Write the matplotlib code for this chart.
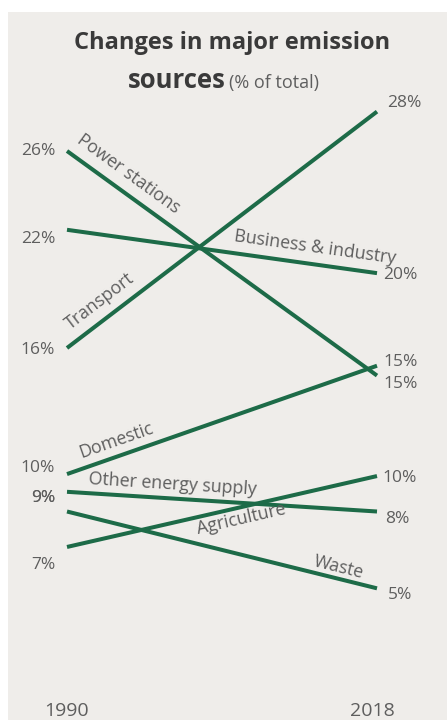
import numpy as np
import matplotlib
matplotlib.use("Agg")
import matplotlib.pyplot as plt
import matplotlib.transforms as mtransforms
from matplotlib.patches import Rectangle

plt.rcParams['font.family'] = ['Open Sans', 'DejaVu Sans']

# ---- data (positions, labels as printed) ----
sources = ["Power stations", "Business & industry", "Transport", "Domestic",
           "Other energy supply", "Agriculture", "Waste"]
years = ["1990", "2018"]
share_1990 = [26.0, 22.0, 16.0, 9.6, 8.7, 5.9, 7.7]
share_2018 = [14.6, 19.8, 28.0, 15.1, 7.7, 9.5, 3.8]
label_1990 = ["26%", "22%", "16%", "10%", "9%", "7%", "9%"]
label_2018 = ["15%", "20%", "28%", "15%", "8%", "10%", "5%"]

# ---- style / layout ----
W, H, DPI = 447, 720, 100
BG = '#efedea'
LINE = '#1d6b48'
TXT = '#5e5e5e'
TITLE = '#3a3a3a'

# label placement along lines: (fraction along line, dy pixels)
name_pos = {"Power stations": (0.197, 21), "Business & industry": (0.80, 17),
            "Transport": (0.106, 22), "Domestic": (0.158, 16),
            "Other energy supply": (0.339, 14), "Agriculture": (0.561, -12),
            "Waste": (0.877, 12)}
left_off = [0, -9, -2, 6, -6, -18, 14]
right_off = [-8, -2, 9, 4, -7, -2, -7]
right_dx = [6, 6, 10, 6, 8, 5, 11]

fig = plt.figure(figsize=(W / DPI, H / DPI), dpi=DPI)
fig.patch.set_facecolor('white')
ax = fig.add_axes([0, 0, 1, 1])
ax.set_facecolor('none')
ax.add_patch(Rectangle((8 / W, 0), 1 - 8 / W, (H - 12) / H,
                       transform=fig.transFigure, facecolor=BG,
                       edgecolor='none', zorder=0, clip_on=False))
ax.set_xlim(-67 / 310, 1 + 70 / 310)
ax.set_ylim(26 - (720 - 151) / 19.7, 26 + 151 / 19.7)
ax.axis('off')

xs = [0, 1]
for i, name in enumerate(sources):
    y0, y1 = share_1990[i], share_2018[i]
    ax.plot(xs, [y0, y1], color=LINE, lw=2.9, solid_capstyle='butt', zorder=3)
    # name label along line
    p0 = ax.transData.transform((0, y0))
    p1 = ax.transData.transform((1, y1))
    ang = np.degrees(np.arctan2(p1[1] - p0[1], p1[0] - p0[0]))
    t, dy = name_pos[name]
    ax.annotate(name, xy=(t, y0 + t * (y1 - y0)), xytext=(0, dy),
                textcoords='offset pixels', ha='center', va='center',
                rotation=ang, rotation_mode='anchor', fontsize=12.8,
                color=TXT, zorder=4)
    # value labels
    ax.annotate(label_1990[i], xy=(0, y0), xytext=(-12, left_off[i]),
                textcoords='offset pixels', ha='right', va='center',
                fontsize=12.5, color=TXT, zorder=4)
    ax.annotate(label_2018[i], xy=(1, y1), xytext=(right_dx[i], right_off[i]),
                textcoords='offset pixels', ha='left', va='center',
                fontsize=12.5, color=TXT, zorder=4)

# years
btrans = mtransforms.blended_transform_factory(ax.transData, fig.transFigure)
ax.text(0, 1 - 711 / H, years[0], transform=btrans, ha='center', va='center',
        fontsize=14, color=TXT, zorder=4)
ax.text(0.985, 1 - 711 / H, years[1], transform=btrans, ha='center', va='center',
        fontsize=14, color=TXT, zorder=4)

# title
fig.text(232 / W, 1 - 49 / H, "Changes in major emission", ha='center',
         va='baseline', fontsize=17, fontweight='bold', color=TITLE)
fig.text(226 / W, 1 - 88 / H, "sources", ha='right', va='baseline',
         fontsize=18.5, fontweight='bold', color=TITLE)
fig.text(229 / W, 1 - 88 / H, "(% of total)", ha='left', va='baseline',
         fontsize=13, color=TXT)

fig.savefig('out.png', dpi=DPI, facecolor=fig.get_facecolor())
